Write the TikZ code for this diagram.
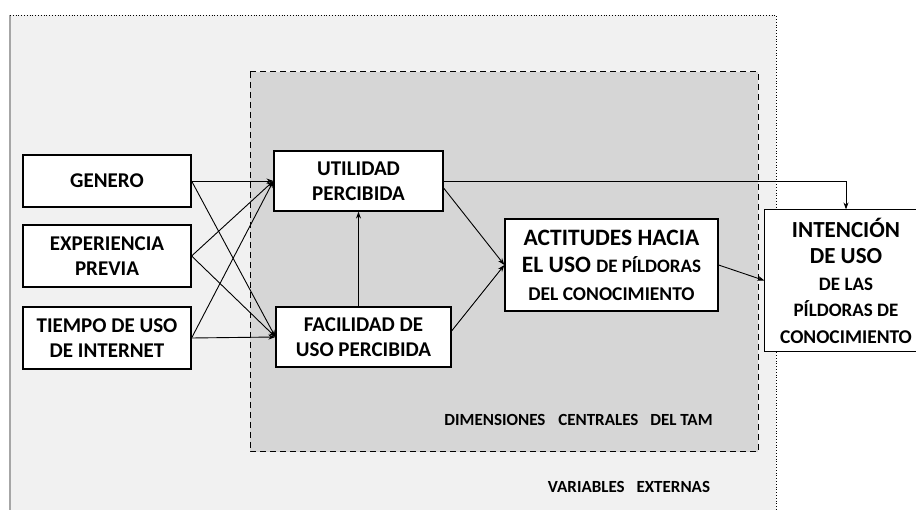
\documentclass[tikz,border=0pt]{standalone}
\usepackage{fontspec}
\setmainfont{Carlito}
\usepackage{tikz}
\usetikzlibrary{arrows.meta, positioning, calc}

\begin{document}
\begin{tikzpicture}[x=1pt, y=-1pt, >={Stealth[length=7pt, width=5pt]},
    caja/.style={draw, line width=1.2pt, fill=white, inner sep=2pt, align=center,
        font=\bfseries\fontsize{21}{25}\selectfont},
    flecha/.style={->, line width=0.9pt},
    etiqueta/.style={font=\bfseries\fontsize{17}{19}\selectfont, inner sep=0pt}]
    \path[use as bounding box] (0, 0) rectangle (916, 510);
    % variables externas
    \fill[gray!11] (10, 15) rectangle (776, 510);
    \draw[gray!70, line width=1.2pt] (10, 510) -- (10, 15);
    \draw[dotted, line width=0.8pt] (10, 15) -- (776, 15) -- (776, 510);
    % dimensiones centrales
    \draw[line width=1pt, dash pattern=on 6pt off 4pt, fill=gray!32] (250, 72) rectangle (758, 452);

    \node[caja, minimum width=168pt, minimum height=52pt] (gen) at (107, 181) {GENERO};
    \node[caja, minimum width=168pt, minimum height=62pt] (exp) at (107, 256) {EXPERIENCIA\\PREVIA};
    \node[caja, minimum width=168pt, minimum height=62pt] (tie) at (107, 338) {TIEMPO DE USO\\DE INTERNET};
    \node[caja, minimum width=169pt, minimum height=60pt] (up) at (358.5, 181) {UTILIDAD\\PERCIBIDA};
    \node[caja, minimum width=175pt, minimum height=60pt] (fup) at (363.5, 337) {FACILIDAD DE\\USO PERCIBIDA};
    \node[caja, minimum width=213pt, minimum height=92pt, font=\bfseries\fontsize{23.5}{27.5}\selectfont] (act) at (611.5, 265)
        {ACTITUDES HACIA\\EL USO {\fontsize{19}{27.5}\selectfont DE PÍLDORAS}\\{\fontsize{19.5}{27.5}\selectfont DEL CONOCIMIENTO}};
    % la caja sale por el borde derecho
    \node[caja, draw=none, minimum width=162pt, minimum height=141pt, font=\bfseries\fontsize{23}{26.5}\selectfont] (int) at (846, 280.5)
        {INTENCIÓN\\DE USO\\{\fontsize{19}{26.5}\selectfont DE LAS}\\{\fontsize{19}{26.5}\selectfont PÍLDORAS DE}\\{\fontsize{19.5}{26.5}\selectfont CONOCIMIENTO}};
    \draw[line width=1.2pt] (int.north east) -- (int.north west) -- (int.south west) -- (int.south east);

    \node[etiqueta] (dim) at (578.5, 420) {DIMENSIONES\hspace{9pt} CENTRALES\hspace{8pt} DEL TAM};
    \node[etiqueta] (var) at (629, 487) {VARIABLES\hspace{8pt} EXTERNAS};

    \foreach \v in {gen, exp, tie} {
        \draw[flecha] (\v.east) -- (up.west);
        \draw[flecha] (\v.east) -- (fup.west);
    }
    \draw[flecha] (fup.north -| up.south) -- (up.south);
    \draw[flecha] ($(up.east)+(0, 7)$) -- (act.west);
    \draw[flecha] ($(fup.east)+(0, -6)$) -- (act.west);
    \draw[flecha] (act.east) -- (int.west);
    \draw[flecha] (up.east) -| (int.north);
\end{tikzpicture}
\end{document}
